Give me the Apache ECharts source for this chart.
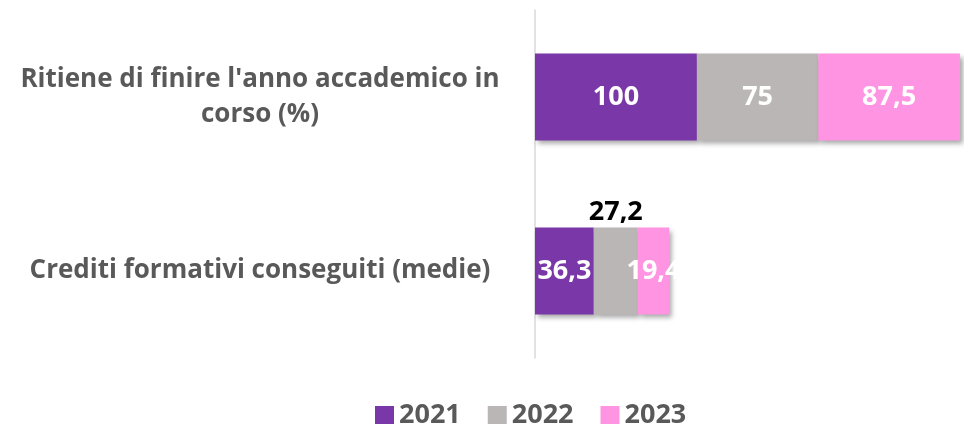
<!DOCTYPE html>
<html>
<head>
<meta charset="utf-8">
<script src="https://cdn.jsdelivr.net/npm/echarts@6/dist/echarts.min.js"></script>
<style>html,body{margin:0;padding:0;background:#fff}#c{width:964px;height:424px}</style>
</head>
<body>
<div id="c"></div>
<script>
const categories = ["Ritiene di finire l'anno accademico in\ncorso (%)", "Crediti formativi conseguiti (medie)"];
const years = ["2021", "2022", "2023"];
const values2021 = [100, 36.3];
const values2022 = [75, 27.2];
const values2023 = [87.5, 19.4];
const colors = ["#7A37A8", "#BAB6B6", "#FF95E2"];

const FONT = "Open Sans";
const fmt = p => String(p.value).replace('.', ',');

function buildData(vals, si) {
  return vals.map((v, i) => {
    if (si === 1 && i === 1) {
      return { value: v, label: { position: 'top', color: '#000', distance: 2 } };
    }
    return v;
  });
}

const seriesVals = [values2021, values2022, values2023];
const series = seriesVals.map((vals, si) => ({
  name: years[si],
  type: 'bar',
  stack: 'total',
  barWidth: 87,
  data: buildData(vals, si),
  itemStyle: {
    color: colors[si],
    shadowColor: 'rgba(0,0,0,0.35)',
    shadowBlur: 5,
    shadowOffsetX: 3,
    shadowOffsetY: 3
  },
  label: {
    show: true,
    position: 'inside',
    color: '#fff',
    fontFamily: FONT,
    fontWeight: 'bold',
    fontSize: 27,
    formatter: fmt
  },
  emphasis: { disabled: true }
}));

const chart = echarts.init(document.getElementById('c'));
chart.setOption({
  animation: false,
  grid: { left: 535, right: 0, top: 10, bottom: 66, containLabel: false },
  xAxis: {
    type: 'value',
    min: 0,
    max: 265,
    show: false
  },
  yAxis: {
    type: 'category',
    inverse: true,
    data: categories,
    axisLine: { show: true, lineStyle: { color: '#D9D9D9', width: 1.5 } },
    axisTick: { show: false },
    axisLabel: {
      margin: 275,
      align: 'center',
      color: '#595959',
      fontFamily: FONT,
      fontWeight: 'bold',
      fontSize: 26,
      lineHeight: 35
    }
  },
  legend: {
    top: 397,
    left: 370,
    icon: 'rect',
    itemWidth: 19,
    itemHeight: 19,
    itemGap: 27,
    data: years,
    textStyle: {
      color: '#595959',
      fontFamily: FONT,
      fontWeight: 'bold',
      fontSize: 27
    }
  },
  series: series
});
</script>
</body>
</html>
